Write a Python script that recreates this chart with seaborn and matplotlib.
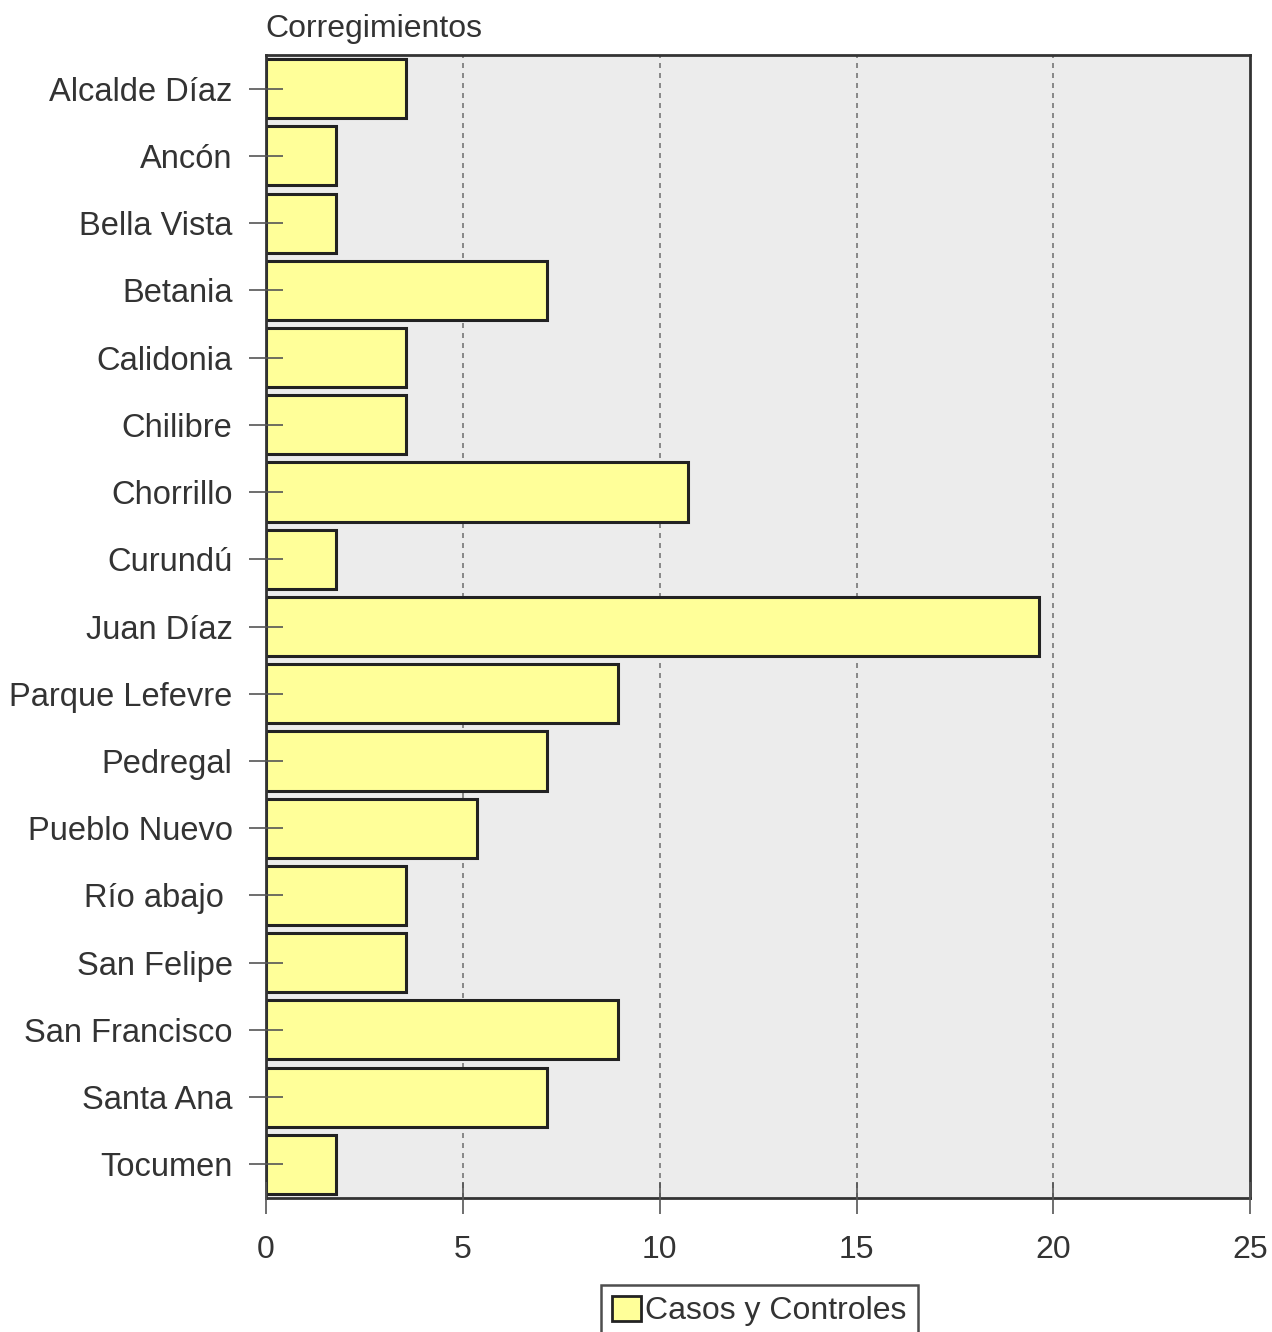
import pandas as pd
import numpy as np
import matplotlib.pyplot as plt
import seaborn as sns
from matplotlib.patches import Patch

# Datos: porcentaje de casos y controles por corregimiento
corregimientos = ['Alcalde Díaz', 'Ancón', 'Bella Vista', 'Betania', 'Calidonia',
                  'Chilibre', 'Chorrillo', 'Curundú', 'Juan Díaz', 'Parque Lefevre',
                  'Pedregal', 'Pueblo Nuevo', 'Río abajo ', 'San Felipe',
                  'San Francisco', 'Santa Ana', 'Tocumen']
porcentajes = [3.57, 1.79, 1.79, 7.14, 3.57,
               3.57, 10.71, 1.79, 19.64, 8.93,
               7.14, 5.36, 3.57, 3.57,
               8.93, 7.14, 1.79]
ticks_x = [0, 5, 10, 15, 20, 25]

df = pd.DataFrame({'corregimiento': corregimientos, 'porcentaje': porcentajes})

sns.set_style('white')
plt.rcParams['font.family'] = ['Liberation Sans', 'DejaVu Sans']

fig = plt.figure(figsize=(12.72, 13.32), dpi=100)
ax = fig.add_axes([0.209, 0.1006, 0.774, 0.8581])
ax.set_facecolor('#ececec')

sns.barplot(data=df, x='porcentaje', y='corregimiento', color='#ffff99',
            edgecolor='#222222', linewidth=2.2, width=0.88, saturation=1, ax=ax)

ax.set_xlim(0, 25)
ax.set_ylim(16.5, -0.5)
ax.set_xticks(ticks_x)

# rejilla punteada detrás de las barras, marcas de los ejes por encima
ax.grid(False)
for t in ticks_x[1:-1]:
    ax.axvline(t, linestyle=(0, (3, 3)), color='#777777', linewidth=1.2, zorder=0.5)
ax.set_axisbelow(False)

for s in ax.spines.values():
    s.set_color('#333333')
    s.set_linewidth(2)

ax.tick_params(axis='x', bottom=True, direction='inout', length=23, width=1.2,
               color='#555555', labelsize=23, labelcolor='#333333', pad=15)
ax.tick_params(axis='y', left=True, direction='inout', length=24, width=1.2,
               color='#555555', labelsize=23.5, labelcolor='#333333', pad=12)
ax.set_xlabel('')
ax.set_ylabel('')
ax.text(0, 1.0157, 'Corregimientos', transform=ax.transAxes, fontsize=23,
        color='#333333', ha='left', va='baseline')

leyenda = [Patch(facecolor='#ffff99', edgecolor='#222222', linewidth=2, label='Casos y Controles')]
fig.legend(handles=leyenda, loc='upper center', bbox_to_anchor=(0.597, 0.0353), fontsize=23,
           frameon=True, fancybox=False, edgecolor='#222222', handlelength=0.9,
           handleheight=0.8, handletextpad=0.15, borderpad=0.35, borderaxespad=0,
           labelcolor='#333333').get_frame().set_linewidth(1.8)

fig.savefig('out.png', dpi=100, facecolor='white')
